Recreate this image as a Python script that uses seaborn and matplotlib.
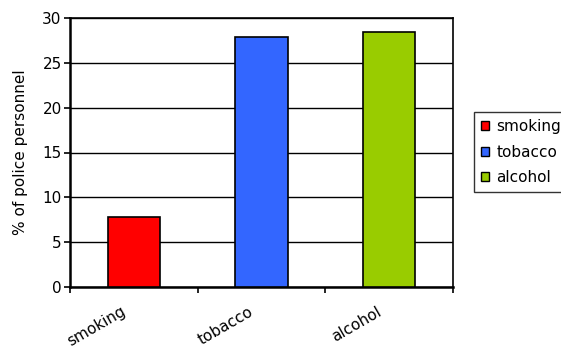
import matplotlib
matplotlib.use("Agg")
import matplotlib.pyplot as plt
import seaborn as sns
import pandas as pd

categories = ["smoking", "tobacco", "alcohol"]
values = [7.8, 27.9, 28.4]
colors = ["#FF0000", "#3366FF", "#99CC00"]
yticks = [0, 5, 10, 15, 20, 25, 30]

sns.set_style("white")
plt.rcParams['font.family'] = ['DejaVu Sans']
plt.rcParams['text.color'] = 'black'
plt.rcParams['axes.labelcolor'] = 'black'
plt.rcParams['xtick.color'] = 'black'
plt.rcParams['ytick.color'] = 'black'

df = pd.DataFrame({"category": categories, "value": values})

fig = plt.figure(figsize=(5.61, 3.49), dpi=100)
ax = fig.add_axes([70/561, (349-287)/349, 383/561, 269/349])

sns.barplot(data=df, x="category", y="value", hue="category",
            palette=dict(zip(categories, colors)), width=0.41, saturation=1,
            edgecolor="black", linewidth=1.2, ax=ax, legend=True, zorder=3)

FS = 11
ax.set_ylim(0, 30)
ax.set_xlim(-0.5, 2.5)
ax.set_yticks(yticks)
ax.set_yticklabels([str(t) for t in yticks], fontsize=FS, color="black")
ax.yaxis.grid(True, color="black", linewidth=1.0, zorder=0)
ax.set_axisbelow(True)

# Excel-style ticks between categories; labels drawn as rotated text at centers
ax.set_xticks([-0.5, 0.5, 1.5, 2.5])
ax.set_xticklabels([])
for i, cat in enumerate(categories):
    ax.annotate(cat, xy=(i, 0), xycoords=("data", "axes fraction"),
                xytext=(-13, -17), textcoords="offset pixels",
                rotation=30, rotation_mode="anchor", ha="right", va="top",
                fontsize=FS, color="black", annotation_clip=False)
ax.tick_params(axis="x", which="major", length=4, width=1.2, color="black", direction="out")
ax.tick_params(axis="y", which="major", length=4, width=1.2, color="black", direction="out", pad=2)
ax.tick_params(axis="both", which="both", bottom=True, left=True)

for s in ax.spines.values():
    s.set_visible(True)
    s.set_color("black")
    s.set_linewidth(1.2)
ax.spines["left"].set_linewidth(1.8)
ax.spines["bottom"].set_linewidth(1.8)

ax.set_xlabel("")
ax.set_ylabel("% of police personnel", fontsize=FS, labelpad=10, color="black")

leg = ax.legend(loc="upper left", bbox_to_anchor=(474/561, 1-112/349),
                bbox_transform=fig.transFigure, fontsize=FS, frameon=True,
                fancybox=False, edgecolor="black", handlelength=0.55,
                handleheight=0.55, handletextpad=0.45, borderpad=0.45,
                labelspacing=0.7, borderaxespad=0)
leg.get_frame().set_linewidth(1.0)
for h in leg.legend_handles:
    h.set_edgecolor("black")
    h.set_linewidth(1.0)
for t in leg.get_texts():
    t.set_color("black")

fig.savefig("out.png", dpi=100)
